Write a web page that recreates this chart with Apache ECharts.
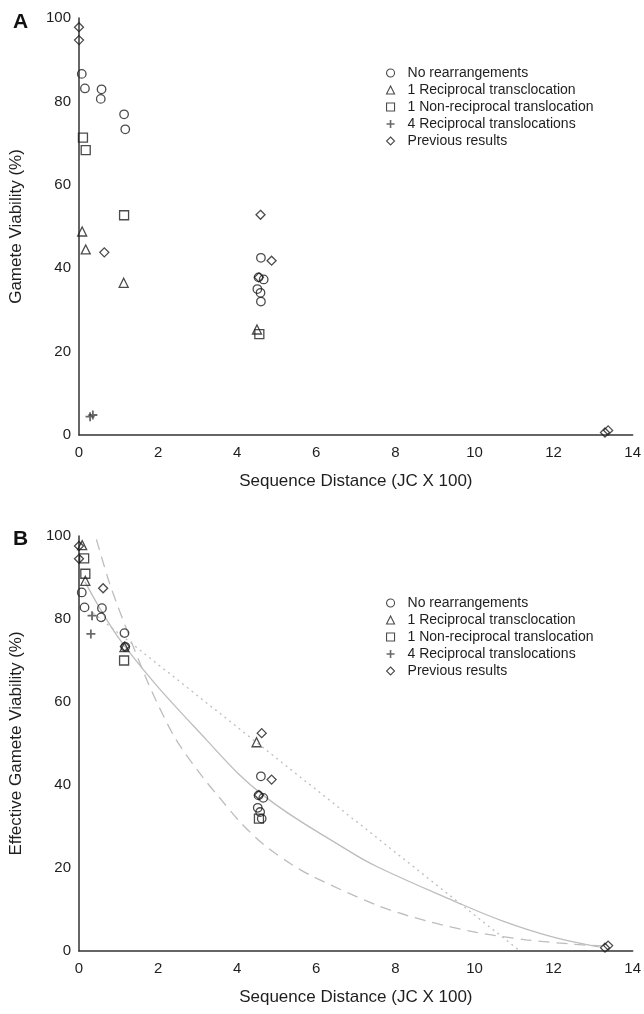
<!DOCTYPE html>
<html>
<head>
<meta charset="utf-8">
<script src="https://cdn.jsdelivr.net/npm/echarts@6/dist/echarts.min.js"></script>
<style>
  html, body { margin: 0; padding: 0; background: #fff; }
  #chart { width: 644px; height: 1014px; }
</style>
</head>
<body>
<div id="chart"></div>
<script>
// axis ticks
const xTicks = [0, 14, 2]   // min, max, interval
const yTicks = [0, 100, 20]

const seriesNames = ['No rearrangements', '1 Reciprocal transclocation', '1 Non-reciprocal translocation', '4 Reciprocal translocations', 'Previous results']

// panel A: gamete viability
const noRearrA = [[0.07, 86.6], [0.15, 83.1], [0.57, 82.9], [0.55, 80.6], [1.14, 76.9], [1.17, 73.3],
  [4.6, 42.5], [4.54, 37.8], [4.67, 37.3], [4.51, 35.0], [4.59, 34.1], [4.6, 32.0]]
const recip1A = [[0.08, 48.8], [0.17, 44.5], [1.13, 36.5], [4.5, 25.3]]
const nonRecipA = [[0.1, 71.3], [0.17, 68.3], [1.14, 52.7], [4.56, 24.2]]
const recip4A = [[0.28, 4.4], [0.35, 4.8]]
const previousA = [[0, 97.8], [0, 94.7], [0.64, 43.8], [4.59, 52.8], [4.87, 41.8], [4.55, 37.8], [13.3, 0.6], [13.38, 1.1]]

// panel B: effective gamete viability
const noRearrB = [[0.07, 86.4], [0.14, 82.8], [0.58, 82.6], [0.56, 80.4], [1.15, 76.6], [1.17, 73.3],
  [4.6, 42.1], [4.54, 37.5], [4.66, 36.9], [4.52, 34.5], [4.58, 33.5], [4.62, 31.9]]
const recip1B = [[0.08, 97.8], [0.16, 89.2], [1.15, 73.2], [4.49, 50.3]]
const nonRecipB = [[0.13, 94.6], [0.16, 90.9], [1.14, 70.0], [4.55, 31.9]]
const recip4B = [[0.33, 80.8], [0.3, 76.4]]
const previousB = [[0, 97.6], [0, 94.5], [0.61, 87.4], [1.16, 73.4], [4.62, 52.5], [4.87, 41.3], [4.55, 37.6], [13.3, 0.8], [13.38, 1.3]]

// fitted curves in panel B
const solidFit = [[0.15, 89], [1.15, 73.5], [3.24, 50.7], [4.66, 37.5], [6.79, 24.3], [7.54, 20.3],
  [9.47, 12.1], [10.72, 7.2], [11.97, 3.4], [13.14, 1.0]]
const dashedFit = [[0.44, 99.2], [0.78, 88.4], [1.24, 76.6], [1.65, 66.8], [1.95, 60.3], [2.45, 51.0],
  [3.12, 42.0], [3.53, 37.2], [4.12, 30.6], [4.7, 25.4], [5.37, 20.9], [5.86, 18.2], [7.54, 11.0],
  [8.8, 7.2], [10.05, 4.5], [11.3, 2.7], [12.56, 1.6], [13.22, 1.2]]
const dottedFit = [[0.35, 81.5], [11.15, 0]]

const font = 'Liberation Sans, Arial, sans-serif'
const ink = '#1e1e1e'
const fitGray = '#bdbdbd'
const plusPath = 'path://M4,0h2v4h4v2h-4v4h-2v-4h-4v-2h4z'

const symbols = [
  { symbol: 'circle', size: 8.5 },
  { symbol: 'triangle', size: 9 },
  { symbol: 'rect', size: 9 },
  { symbol: plusPath, size: 9 },
  { symbol: 'diamond', size: 9 }
]

function pointSeries(idx, name, data, i) {
  const s = symbols[i]
  const isPlus = i === 3
  return {
    name: name,
    type: 'scatter',
    xAxisIndex: idx,
    yAxisIndex: idx,
    symbol: s.symbol,
    symbolSize: s.size,
    data: data,
    z: 3,
    itemStyle: isPlus
      ? { color: '#444', borderWidth: 0 }
      : { color: 'rgba(255,255,255,0)', borderColor: ink, borderWidth: 1.3 }
  }
}

function fitSeries(data, type, smooth) {
  return {
    type: 'line',
    xAxisIndex: 1,
    yAxisIndex: 1,
    data: data,
    smooth: smooth,
    symbol: 'none',
    silent: true,
    z: 1,
    lineStyle: { color: fitGray, width: 1.3, type: type }
  }
}

function xAxis(idx) {
  return {
    type: 'value',
    gridIndex: idx,
    min: xTicks[0],
    max: xTicks[1],
    interval: xTicks[2],
    name: 'Sequence Distance (JC X 100)',
    nameLocation: 'middle',
    nameGap: 38,
    nameTextStyle: { fontFamily: font, fontSize: 17, color: ink },
    axisLine: { lineStyle: { color: '#333', width: 1.5 } },
    axisTick: { show: false },
    splitLine: { show: false },
    axisLabel: { fontFamily: font, fontSize: 15, color: ink, margin: 10 }
  }
}

function yAxis(idx, title) {
  return {
    type: 'value',
    gridIndex: idx,
    min: yTicks[0],
    max: yTicks[1],
    interval: yTicks[2],
    name: title,
    nameLocation: 'middle',
    nameGap: 54,
    nameTextStyle: { fontFamily: font, fontSize: 17, color: ink },
    axisLine: { show: true, lineStyle: { color: '#333', width: 1.5 } },
    axisTick: { show: false },
    splitLine: { show: false },
    axisLabel: { fontFamily: font, fontSize: 15, color: ink, margin: 8 }
  }
}

function legend(top) {
  return {
    data: seriesNames,
    orient: 'vertical',
    left: 381,
    top: top,
    itemWidth: 8,
    itemHeight: 8,
    itemGap: 3,
    selectedMode: false,
    itemStyle: { borderWidth: 1.1 },
    textStyle: { fontFamily: font, fontSize: 14, color: ink, padding: [0, 0, 0, 8] }
  }
}

const chart = echarts.init(document.getElementById('chart'), null, { renderer: 'canvas' })

const series = []
const groupsA = [noRearrA, recip1A, nonRecipA, recip4A, previousA]
const groupsB = [noRearrB, recip1B, nonRecipB, recip4B, previousB]
groupsA.forEach((d, i) => series.push(pointSeries(0, seriesNames[i], d, i)))
series.push(fitSeries(solidFit, 'solid', 0.4))
series.push(fitSeries(dashedFit, [11, 7], 0.3))
series.push(fitSeries(dottedFit, [2, 4], false))
groupsB.forEach((d, i) => series.push(pointSeries(1, seriesNames[i], d, i)))

chart.setOption({
  animation: false,
  backgroundColor: '#fff',
  title: [
    { text: 'A', left: 8, top: 7, textStyle: { fontFamily: font, fontSize: 21, fontWeight: 'bold', color: '#111' } },
    { text: 'B', left: 8, top: 524, textStyle: { fontFamily: font, fontSize: 21, fontWeight: 'bold', color: '#111' } }
  ],
  legend: [legend(61), legend(591)],
  grid: [
    { left: 79, top: 18, width: 558, height: 417 },
    { left: 79, top: 536, width: 558, height: 415 }
  ],
  xAxis: [xAxis(0), xAxis(1)],
  yAxis: [yAxis(0, 'Gamete Viability (%)'), yAxis(1, 'Effective Gamete Viability (%)')],
  series: series
})
</script>
</body>
</html>
